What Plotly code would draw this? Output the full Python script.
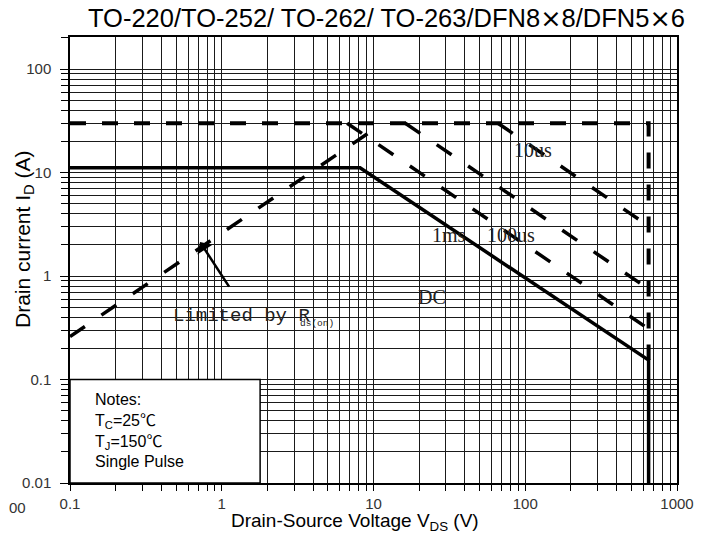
import plotly.graph_objects as go

# ---------------- data ----------------
# pulsed drain current limit and max VDS
limit_v = [0.1, 650, 650]
limit_i = [30, 30, 0.154]
# Rds(on) limited line
rds_v = [0.1, 11]
rds_i = [0.26, 28.6]
# DC operation
dc_v = [0.1, 8.15, 650, 650]
dc_i = [11.1, 11.1, 0.154, 0.01]
# single pulse lines
p1ms_v = [6.7, 650]
p1ms_i = [30, 0.308]
p100us_v = [16.2, 650]
p100us_i = [30, 0.748]
p10us_v = [66, 650]
p10us_i = [30, 3.04]

x_ticks = [0.1, 1, 10, 100, 1000]
x_tick_labels = ["0.1", "1", "10", "100", "1000"]
y_ticks = [0.01, 0.1, 1, 10, 100]
y_tick_labels = ["0.01", "0.1", "1", "10", "100"]

# notes box extent (data units)
box_x = [0.1, 1.79]
box_y = [0.01, 0.1]

# ---------------- figure ----------------
x_minor = [m * 10 ** e for e in range(-1, 3) for m in range(2, 10)]
y_minor = [m * 10 ** e for e in range(-2, 3) for m in range(2, 10)]

fig = go.Figure()

dash_lw = 3.5
fig.add_trace(go.Scatter(x=limit_v, y=limit_i, mode="lines",
                         line=dict(color="black", width=4, dash="16px,16px")))
fig.add_trace(go.Scatter(x=rds_v, y=rds_i, mode="lines",
                         line=dict(color="black", width=dash_lw, dash="18px,20px")))
fig.add_trace(go.Scatter(x=p1ms_v, y=p1ms_i, mode="lines",
                         line=dict(color="black", width=dash_lw, dash="18px,20px")))
fig.add_trace(go.Scatter(x=p100us_v, y=p100us_i, mode="lines",
                         line=dict(color="black", width=dash_lw, dash="18px,20px")))
fig.add_trace(go.Scatter(x=p10us_v, y=p10us_i, mode="lines",
                         line=dict(color="black", width=dash_lw, dash="18px,20px")))
fig.add_trace(go.Scatter(x=dc_v, y=dc_i, mode="lines",
                         line=dict(color="black", width=3.5)))

grid_c = "#1a1a1a"
tick_font = dict(family="Liberation Sans, Arial, sans-serif", size=15, color="#333")

fig.update_xaxes(type="log", range=[-1, 3],
                 tickmode="array", tickvals=x_ticks, ticktext=x_tick_labels,
                 showgrid=True, gridcolor=grid_c, gridwidth=1.2,
                 ticks="outside", ticklen=6, tickcolor="black", tickwidth=1.3,
                 showline=True, linecolor="black", linewidth=1.5, mirror=True,
                 tickfont=tick_font, ticklabelstandoff=0, zeroline=False,
                 minor=dict(tickmode="array", tickvals=x_minor, ticks="outside",
                            ticklen=6, tickcolor="black", tickwidth=1.3,
                            showgrid=True, gridcolor=grid_c, gridwidth=1.2))
fig.update_yaxes(type="log", range=[-2, 2.31],
                 tickmode="array", tickvals=y_ticks, ticktext=y_tick_labels,
                 showgrid=True, gridcolor=grid_c, gridwidth=1.2,
                 ticks="outside", ticklen=8, tickcolor="black", tickwidth=1.3,
                 showline=True, linecolor="black", linewidth=1.5, mirror=True,
                 tickfont=tick_font, ticklabelstandoff=6, zeroline=False,
                 minor=dict(tickmode="array", tickvals=y_minor, ticks="outside",
                            ticklen=7, tickcolor="black", tickwidth=1.3,
                            showgrid=True, gridcolor=grid_c, gridwidth=1.2))

# notes box
fig.add_shape(type="rect", xref="x", yref="y",
              x0=box_x[0], x1=box_x[1], y0=box_y[0], y1=box_y[1],
              fillcolor="white", line=dict(color="black", width=1.5), layer="above")

sans = "Liberation Sans, Arial, sans-serif"
serif = "Liberation Serif, Times New Roman, serif"
mono = "Liberation Mono, Courier New, monospace"
cjk = "style=\"font-family:'Noto Sans CJK SC'\""
wide_x = "<span style=\"font-family:'DejaVu Sans'\">×</span>"

annotations = [
    # title
    dict(text="TO-220/TO-252/ TO-262/ TO-263/DFN8" + wide_x + "8/DFN5" + wide_x + "6",
         xref="paper", yref="paper", x=0.5206, y=1.0426, xanchor="center", yanchor="middle",
         showarrow=False, font=dict(family=sans, size=25.5, color="black")),
    # axis titles
    dict(text="Drain-Source Voltage V<sub>DS</sub> (V)", xref="paper", yref="paper",
         x=0.4695, y=-0.088, xanchor="center", yanchor="middle", showarrow=False,
         font=dict(family=sans, size=19, color="black")),
    dict(text="Drain current I<sub>D</sub> (A)", xref="paper", yref="paper",
         x=-0.0758, y=0.547, xanchor="center", yanchor="middle", showarrow=False,
         textangle=-90, font=dict(family=sans, size=21, color="black")),
    # curve labels
    dict(text="10us", x=2.051, y=1.217, xref="x", yref="y", showarrow=False,
         font=dict(family=serif, size=20, color="#222")),
    dict(text="1ms", x=1.498, y=0.396, xref="x", yref="y", showarrow=False,
         font=dict(family=serif, size=20, color="#222")),
    dict(text="100us", x=1.906, y=0.396, xref="x", yref="y", showarrow=False,
         font=dict(family=serif, size=20, color="#222")),
    dict(text="DC", x=1.386, y=-0.203, xref="x", yref="y", showarrow=False,
         font=dict(family=serif, size=20, color="#222")),
    dict(text="Limited by R",
         x=-0.335, y=-0.39, xref="x", yref="y", xanchor="left", yanchor="middle",
         showarrow=False, font=dict(family=mono, size=19, color="#222")),
    dict(text="ds(on)",
         x=0.505, y=-0.455, xref="x", yref="y", xanchor="left", yanchor="middle",
         showarrow=False, font=dict(family=mono, size=9.5, color="#222")),
    # arrow
    dict(text="", x=-0.143, y=0.328, xref="x", yref="y", showarrow=True,
         ax=30, ay=46, arrowhead=1, arrowsize=1.2, arrowwidth=2.5, arrowcolor="black"),
    # notes
    dict(text="Notes:<br>T<sub>C</sub>=25<span " + cjk + ">℃</span><br>T<sub>J</sub>=150<span " + cjk + ">℃</span><br>Single Pulse",
         x=-0.848, y=-1.49, xref="x", yref="y", xanchor="left", yanchor="middle",
         align="left", showarrow=False, font=dict(family=sans, size=16, color="black")),
    # fragment of neighbouring chart at the left edge
    dict(text="00", xref="paper", yref="paper", x=-0.0873, y=-0.056,
         xanchor="center", yanchor="middle", showarrow=False,
         font=dict(family=sans, size=15, color="#333")),
]
fig.update_layout(annotations=annotations)

# the page body adds an 8px offset, so the figure is 8px smaller than the window
fig.update_layout(width=705, height=529, margin=dict(l=62, r=36, t=29, b=54),
                  paper_bgcolor="white", plot_bgcolor="white", showlegend=False)

fig.write_html("out.html")
